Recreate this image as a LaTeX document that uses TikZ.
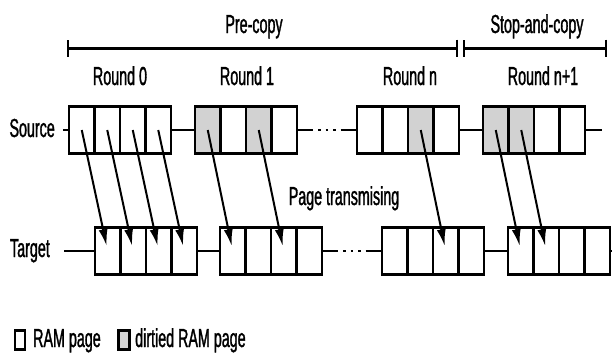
\documentclass[tikz,border=0pt]{standalone}
\usepackage{fontspec}
\setmainfont[FakeStretch=0.55, FakeBold=1.2]{Liberation Sans}
\usetikzlibrary{arrows.meta,calc}

\tikzset{
  lab/.style={font=\fontsize{26}{30}\selectfont, inner sep=0pt},
  page/.style={draw, line width=2.2pt, minimum width=25.5pt, minimum height=47pt, inner sep=0pt},
  dirty/.style={page, fill=gray!35},
  link/.style={line width=2.2pt},
  gapline/.style={link, dash pattern=on 15pt off 5pt on 2.5pt off 5pt on 2.5pt off 5pt on 2.5pt off 5pt on 30pt},
  move/.style={line width=2pt, -{Latex[length=17pt,width=9pt]}, shorten >=5pt},
  phase/.style={line width=3pt, {Bar[width=17pt,line width=2.2pt]}-{Bar[width=17pt,line width=2.2pt]}}
}

\begin{document}
\begin{tikzpicture}[x=1pt, y=-1pt, line cap=butt]
  \useasboundingbox (0,0) rectangle (612,356);

  % --- 1. Migration phases ---
  \coordinate (pre-l) at (67,48);
  \coordinate (pre-r) at (458,48);
  \coordinate (stop-l) at (463,48);
  \coordinate (stop-r) at (607,48);
  \draw[phase] (pre-l) -- (pre-r);
  \draw[phase] (stop-l) -- (stop-r);
  \node[lab, anchor=base] (pre) at (254,33) {Pre-copy};
  \node[lab, anchor=base] (stop) at (537,33) {Stop-and-copy};

  % --- 2. Pages of each round (source row and target row) ---
  \foreach \r/\sx/\tx in {0/69/95, 1/195/220, n/357/382, l/483/508} {
    \foreach \i in {1,...,4} {
      \node[page] (s\r-\i) at ({\sx+(\i-0.5)*25.5},130) {};
      \node[page] (t\r-\i) at ({\tx+(\i-0.5)*25.5},251) {};
    }
  }
  % dirtied pages
  \foreach \c in {s1-1,s1-3,sn-3,sl-1,sl-2}
    \node[dirty] at (\c) {};

  \node[lab, anchor=base] (round0) at (120,85) {Round 0};
  \node[lab, anchor=base] (round1) at (247,85) {Round 1};
  \node[lab, anchor=base] (roundn) at (410,85) {Round n};
  \node[lab, anchor=base] (roundl) at (543,85) {Round n+1};

  % --- 3. Source and target lines ---
  \node[lab, anchor=base east] (source) at (55,137) {Source};
  \node[lab, anchor=base east] (target) at (50,257) {Target};
  \coordinate (s-end) at (602,130);
  \coordinate (t-end) at (612,251);

  \draw[link, shorten <=8pt] (source.east |- s0-1.west) -- (s0-1.west);
  \draw[link] (s0-4.east) -- (s1-1.west);
  \draw[gapline] (s1-4.east) -- (sn-1.west);
  \draw[link] (sn-4.east) -- (sl-1.west);
  \draw[link] (sl-4.east) -- (s-end);

  \draw[link, shorten <=14pt] (target.east |- t0-1.west) -- (t0-1.west);
  \draw[link] (t0-4.east) -- (t1-1.west);
  \draw[gapline] (t1-4.east) -- (tn-1.west);
  \draw[link] (tn-4.east) -- (tl-1.west);
  \draw[link] (tl-4.east) -- (t-end);

  % --- 4. Page transfers ---
  \foreach \i in {1,...,4}
    \draw[move] (s0-\i.center) -- (t0-\i.center);
  \foreach \c in {1-1,1-3,n-3,l-1,l-2}
    \draw[move] (s\c.center) -- (t\c.center);
  \node[lab, anchor=base] (transmit) at (344,205) {Page transmising};

  % --- 5. Legend ---
  \node[page, minimum width=10pt, minimum height=19pt] (key-ram) at (20,340) {};
  \node[lab, anchor=base west] (key-ram-txt) at (33,347) {RAM page};
  \node[dirty, minimum width=11pt, minimum height=19pt] (key-dirty) at (124,340) {};
  \node[lab, anchor=base west] (key-dirty-txt) at (135,347) {dirtied RAM page};
\end{tikzpicture}
\end{document}
